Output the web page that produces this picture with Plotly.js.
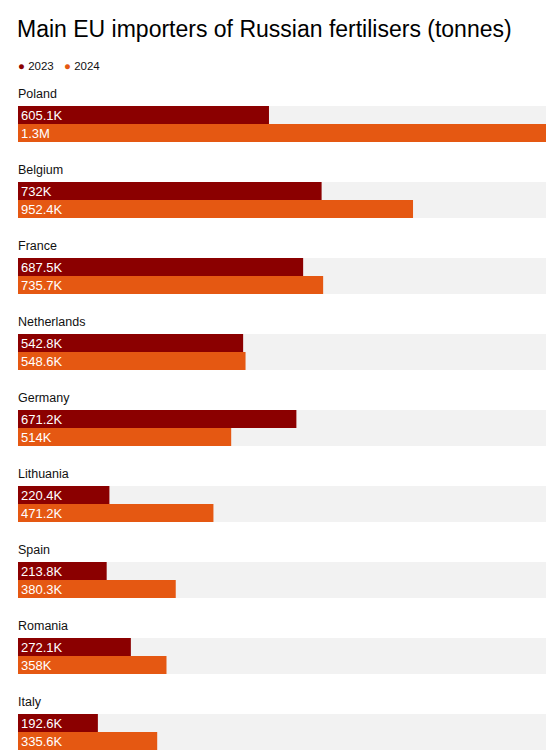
<!DOCTYPE html>
<html>
<head>
<meta charset="utf-8">
<script src="https://cdn.plot.ly/plotly-3.0.1.min.js"></script>
<style>
  html, body { margin: 0; padding: 0; background: #ffffff; }
  #chart { width: 546px; height: 751px; }
</style>
</head>
<body>
<div id="chart"></div>
<script>
// countries, top to bottom
const countries = ["Poland", "Belgium", "France", "Netherlands", "Germany",
                   "Lithuania", "Spain", "Romania", "Italy"];
// tonnes
const imports2023 = [605100, 732000, 687500, 542800, 671200, 220400, 213800, 272100, 192600];
const imports2024 = [1273000, 952400, 735700, 548600, 514000, 471200, 380300, 358000, 335600];
const seriesNames = ["2023", "2024"];

const c2023 = '#8b0000';
const c2024 = '#e55812';
const track = '#f2f2f2';
const font = 'Liberation Sans, Arial, Helvetica, sans-serif';

const barW = 18 / 76;   // bar thickness in row units
const xMax = Math.max(...imports2023, ...imports2024);
const pos = countries.map((c, i) => i);
const plotTop = 80, plotH = 751 - 80;

function fmt(v) {
    if (v >= 1e6) return (v / 1e6).toFixed(1) + 'M';
    let k = Math.round(v / 100) / 10;
    return k + 'K';
}

const background = {
    type: 'bar', orientation: 'h',
    x: pos.map(() => xMax), y: pos,
    offset: -barW, width: 2 * barW,
    marker: { color: track },
    hoverinfo: 'skip', showlegend: false
};

function series(vals, name, color, offset) {
    return {
        type: 'bar', orientation: 'h', name: name,
        x: vals, y: pos,
        offset: offset, width: barW,
        marker: { color: color },
        text: vals.map(fmt),
        textposition: 'inside',
        insidetextanchor: 'start',
        constraintext: 'none',
        textfont: { color: '#ffffff', size: 13, family: font },
        cliponaxis: false,
        showlegend: false
    };
}

const labels = countries.map((c, i) => ({
    text: c, x: 0, y: i - 0.395,
    xref: 'x', yref: 'y',
    xanchor: 'left', yanchor: 'middle',
    xshift: -2,
    showarrow: false,
    font: { size: 12.5, color: '#111111', family: font }
}));

// legend drawn as text: coloured dot + year
const legendX = [16, 62];
const legend = seriesNames.map((n, i) => ({
    text: '<span style="color:' + [c2023, c2024][i] + '">●</span> ' + n,
    x: (legendX[i] - 18) / 528, y: 1 + (plotTop - 66) / plotH,
    xref: 'paper', yref: 'paper',
    xanchor: 'left', yanchor: 'middle',
    showarrow: false,
    font: { size: 11.5, color: '#111111', family: font }
}));

Plotly.newPlot('chart', [
    background,
    series(imports2023, seriesNames[0], c2023, -barW),
    series(imports2024, seriesNames[1], c2024, 0)
], {
    width: 546, height: 751,
    barmode: 'overlay',
    paper_bgcolor: '#ffffff',
    plot_bgcolor: '#ffffff',
    margin: { l: 18, r: 0, t: plotTop, b: 0 },
    title: {
        text: 'Main EU importers of Russian fertilisers (tonnes)',
        x: 17 / 546, xanchor: 'left',
        y: 1 - 29 / 751, yanchor: 'middle',
        font: { size: 23, color: '#000000', family: font }
    },
    showlegend: false,
    xaxis: {
        range: [0, xMax],
        visible: false, showgrid: false, zeroline: false, fixedrange: true
    },
    yaxis: {
        range: [(751 - 124) / 76, (plotTop - 124) / 76],
        visible: false, showgrid: false, zeroline: false, fixedrange: true
    },
    annotations: labels.concat(legend)
}, { displayModeBar: false, staticPlot: true });
</script>
</body>
</html>
